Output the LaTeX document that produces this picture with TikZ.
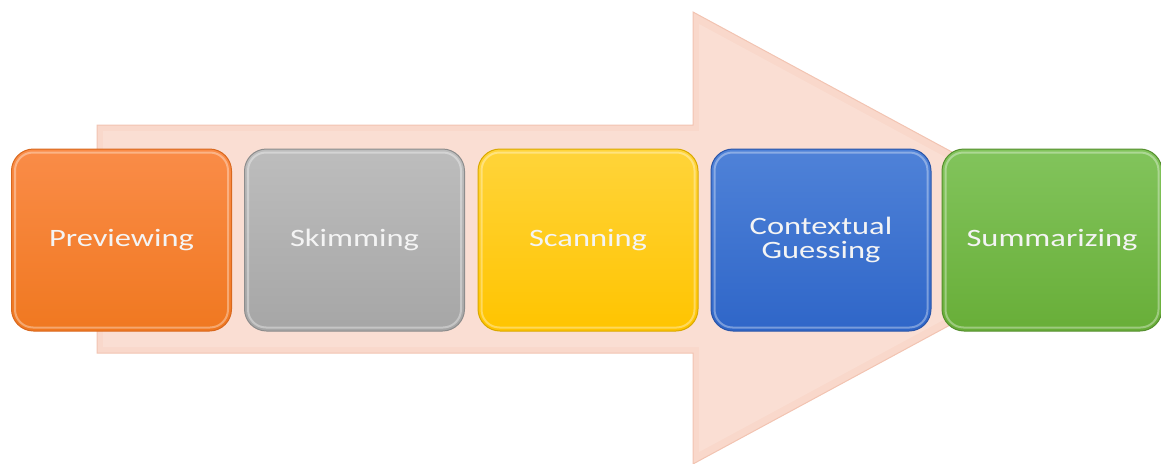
\documentclass[tikz,border=0pt]{standalone}
\usepackage{fontspec}
\newfontfamily\boxfont[FakeStretch=1.3]{Carlito}
\definecolor{arrowfill}{HTML}{F9D8CB}
\definecolor{arrowin}{HTML}{FBE3D9}
\definecolor{arrowedge}{HTML}{F2C4B2}
\definecolor{orT}{HTML}{FA8C48}
\definecolor{orB}{HTML}{F07820}
\definecolor{orD}{HTML}{D8681E}
\definecolor{grT}{HTML}{BDBDBD}
\definecolor{grB}{HTML}{A6A6A6}
\definecolor{grD}{HTML}{8C8C8C}
\definecolor{yeT}{HTML}{FFD43A}
\definecolor{yeB}{HTML}{FFC400}
\definecolor{yeD}{HTML}{D9A800}
\definecolor{blT}{HTML}{4F82D8}
\definecolor{blB}{HTML}{2F66C8}
\definecolor{blD}{HTML}{2A55A8}
\definecolor{gnT}{HTML}{82C45C}
\definecolor{gnB}{HTML}{68AE38}
\definecolor{gnD}{HTML}{558F2E}
\definecolor{txt}{HTML}{F4F4F4}
\tikzset{
  stepbox/.style={rounded corners=22pt, minimum width=220pt, minimum height=182pt,
    inner sep=0pt, line width=1pt, text=txt, align=center,
    font=\boxfont\fontsize{25}{23.5}\selectfont},
  gloss/.style={rounded corners=18pt, line width=2pt, draw=white, draw opacity=0.35},
}
\begin{document}
\begin{tikzpicture}[x=1pt,y=-1pt]
\useasboundingbox (0,0) rectangle (1161,463);
% big arrow
\path[fill=arrowfill, draw=arrowedge, line width=1pt]
  (97,125) -- (693,125) -- (693,12) -- (1111,238) -- (693,464) -- (693,353) -- (97,353) -- cycle;
\path[fill=arrowin, fill opacity=0.6]
  (103,131) -- (699,131) -- (699,24) -- (1095,238) -- (699,452) -- (699,347) -- (103,347) -- cycle;
% boxes
\node[stepbox, top color=orT, bottom color=orB, draw=orD] (a) at (121.5,240) {Previewing};
\node[stepbox, top color=grT, bottom color=grB, draw=grD] (b) at (354.5,240) {Skimming};
\node[stepbox, top color=yeT, bottom color=yeB, draw=yeD] (c) at (588,240) {Scanning};
\node[stepbox, top color=blT, bottom color=blB, draw=blD] (d) at (821,240) {Contextual\\Guessing};
\node[stepbox, top color=gnT, bottom color=gnB, draw=gnD] (e) at (1052,240) {Summarizing};
\foreach \n in {a,b,c,d,e}{
  \draw[gloss] ([shift={(4pt,-4pt)}]\n.north west) rectangle ([shift={(-4pt,4pt)}]\n.south east);
}
\end{tikzpicture}
\end{document}
